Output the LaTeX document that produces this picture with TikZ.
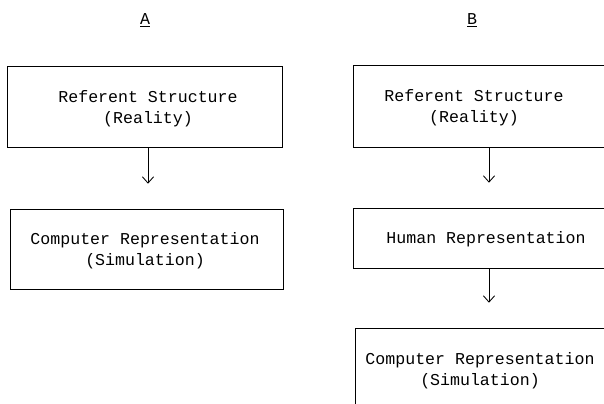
\documentclass[tikz,border=0pt]{standalone}
\usepackage{fontspec}
\setmonofont{Liberation Mono}
\usetikzlibrary{shapes, arrows, arrows.meta, fit}

\tikzset{
  boxframe/.style={draw, line width=0.6pt, inner sep=0pt},
  boxtext/.style={font=\ttfamily\fontsize{11.8}{15}\selectfont, align=center, inner sep=0pt},
  flow/.style={-{Straight Barb[length=4.5pt, width=8pt]}, line width=0.6pt, shorten >=17.7pt}
}

\begin{document}
\begin{tikzpicture}[x=0.025cm, y=-0.025cm]
\useasboundingbox (0,0) rectangle (604,403);
\clip (0,0) rectangle (604,403);
% column A
\node[boxtext] (heada) at (145,20) {\underline{A}};
\node[boxframe, fit={(7,66) (282,147)}] (fa1) {};
\node[boxtext] (ta1) at (148,109) {Referent Structure\\(Reality)};
\node[boxframe, fit={(10,209) (283,289)}] (fa2) {};
\node[boxtext] (ta2) at (145,251) {Computer Representation\\(Simulation)};
\draw[flow] (fa1.south -| ta1) -- (fa2.north -| ta1);
% column B
\node[boxtext] (headb) at (472,20) {\underline{B}};
\node[boxframe, fit={(353,65) (625,147)}] (fb1) {};
\node[boxtext] (tb1) at (474,108) {Referent Structure\\(Reality)};
\node[boxframe, fit={(353,208) (625,268)}] (fb2) {};
\node[boxtext] (tb2) at (486,239) {Human Representation};
\node[boxframe, fit={(355,328) (625,430)}] (fb3) {};
\node[boxtext] (tb3) at (480,371) {Computer Representation\\(Simulation)};
\draw[flow] (fb1.south) -- (fb2.north);
\draw[flow] (fb2.south) -- (fb3.north -| fb2);
\end{tikzpicture}
\end{document}
